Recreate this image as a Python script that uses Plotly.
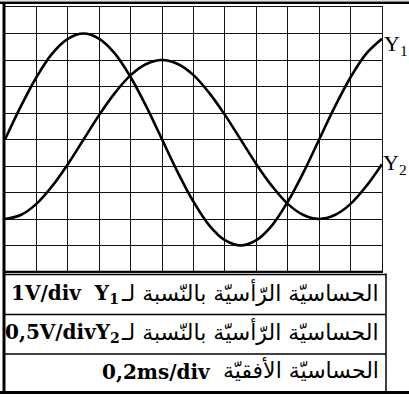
import plotly.graph_objects as go

W, H = 409, 397

# time in divisions (0.2 ms/div), sampled every half division
t_div = [0, 0.5, 1, 1.5, 2, 2.5, 3, 3.5, 4, 4.5, 5, 5.5, 6, 6.5, 7, 7.5, 8, 8.5, 9, 9.5, 10, 10.5, 11, 11.5, 12]
# deflection of each trace, in divisions
y1_div = [0, 1.24, 2.35, 3.24, 3.8, 4, 3.8, 3.24, 2.35, 1.24, 0, -1.24, -2.35, -3.24, -3.8, -4, -3.8, -3.24, -2.35, -1.24, 0, 1.24, 2.35, 3.24, 3.8]
y2_div = [-3, -2.85, -2.43, -1.76, -0.93, 0, 0.93, 1.76, 2.43, 2.85, 3, 2.85, 2.43, 1.76, 0.93, 0, -0.93, -1.76, -2.43, -2.85, -3, -2.85, -2.43, -1.76, -0.93]

trace_labels = ["Y<sub>1</sub>", "Y<sub>2</sub>"]
row_arabic = ["الحساسيّة الرّأسيّة بالنّسبة لـ", "الحساسيّة الرّأسيّة بالنّسبة لـ", "الحساسيّة الأفقيّة"]
row_latin = ["1V/div  Y<sub>1</sub>", "0,5V/divY<sub>2</sub>", "0,2ms/div"]

def px(x):
    return x / W

def py(y):
    return 1 - y / H

fig = go.Figure()
for ys in (y1_div, y2_div):
    fig.add_trace(go.Scatter(x=t_div, y=ys, mode="lines",
                             line=dict(color="black", width=2.6, shape="spline", smoothing=1.0),
                             showlegend=False, hoverinfo="skip"))

gx0, gx1, gy0, gy1 = 5, 382, 7, 272
fig.update_layout(
    width=W, height=H, margin=dict(l=0, r=0, t=0, b=0),
    paper_bgcolor="white", plot_bgcolor="white",
    xaxis=dict(domain=[px(gx0), px(gx1)], range=[0, 12], dtick=1, tick0=0,
               showgrid=True, gridcolor="#111", gridwidth=1.3, zeroline=False,
               showticklabels=False, ticks="", showline=True, linecolor="#111",
               linewidth=1.3, mirror=True, fixedrange=True),
    yaxis=dict(domain=[py(gy1), py(gy0)], range=[-5, 5], dtick=1, tick0=0,
               showgrid=True, gridcolor="#111", gridwidth=1.3, zeroline=False,
               showticklabels=False, ticks="", showline=True, linecolor="#111",
               linewidth=1.3, mirror=True, fixedrange=True),
)

shapes = []
def hline(y, x0, x1, w, c="black"):
    shapes.append(dict(type="line", xref="paper", yref="paper", x0=px(x0), x1=px(x1),
                       y0=py(y), y1=py(y), line=dict(color=c, width=w)))
def vline(x, y0, y1, w, c="black"):
    shapes.append(dict(type="line", xref="paper", yref="paper", x0=px(x), x1=px(x),
                       y0=py(y0), y1=py(y1), line=dict(color=c, width=w)))

hline(1.5, 0, W, 1.5, "#888")
hline(3, 0, W, 2)
vline(4, 2, 394, 3)
hline(271.5, 4, 382, 1.5)
hline(274.5, 4, 386, 1.5)
hline(314.5, 4, 386, 1.5)
hline(354, 4, 386, 1.5)
hline(392.5, 0, W, 3)
vline(386, 273.5, 393, 1.5)
fig.update_layout(shapes=shapes)

ann = []
# trace labels
ann.append(dict(x=px(382), y=py(45), xref="paper", yref="paper", text=trace_labels[0],
                showarrow=False, xanchor="left", yanchor="middle",
                font=dict(family="Liberation Serif", size=22, color="black")))
ann.append(dict(x=px(381), y=py(164), xref="paper", yref="paper", text=trace_labels[1],
                showarrow=False, xanchor="left", yanchor="middle",
                font=dict(family="Liberation Serif", size=22, color="black")))

row_y = [294, 333, 372]
ar_right = 381
lat_left = [9, 3, 100]
for i in range(3):
    ann.append(dict(x=px(ar_right), y=py(row_y[i] - 2), xref="paper", yref="paper",
                    text=row_arabic[i], showarrow=False, xanchor="right", yanchor="middle",
                    font=dict(family="DejaVu Sans", size=22, color="black")))
    ann.append(dict(x=px(lat_left[i]), y=py(row_y[i]), xref="paper", yref="paper",
                    text=row_latin[i], showarrow=False, xanchor="left", yanchor="middle",
                    font=dict(family="DejaVu Serif", size=20, weight="bold", color="black")))
fig.update_layout(annotations=ann)

fig.write_html("out.html", config={"displayModeBar": False},
               post_script="document.body.style.margin='0';")
